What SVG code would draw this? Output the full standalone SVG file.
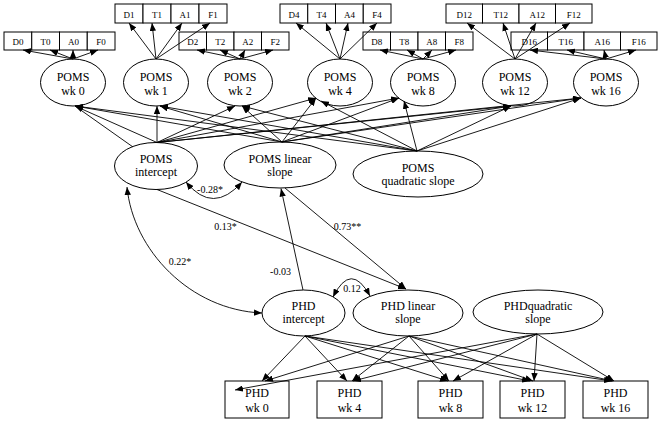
<svg xmlns="http://www.w3.org/2000/svg" width="662" height="424" viewBox="0 0 662 424">
<defs>
<marker id="ah" viewBox="0 0 10 8" refX="10" refY="4" markerWidth="8" markerHeight="6.4" markerUnits="userSpaceOnUse" orient="auto-start-reverse"><path d="M0,0 L10,4 L0,8 z" fill="#000"/></marker>
<style>
.n{fill:#fff;stroke:#000;stroke-width:1}
.t{font-family:"Liberation Serif","Times New Roman",serif;font-size:12px;fill:#000;text-anchor:middle}
.s{font-family:"Liberation Serif","Times New Roman",serif;font-size:9px;fill:#000;text-anchor:middle}
.l{font-family:"Liberation Serif","Times New Roman",serif;font-size:10px;fill:#000;text-anchor:middle}
.c line,.c path{stroke:#000;stroke-width:0.9;fill:none}
.a{marker-end:url(#ah)}
.d{marker-start:url(#ah);marker-end:url(#ah)}
</style>
</defs>
<rect width="662" height="424" fill="#fff"/>

<!-- indicator boxes -->
<g id="ind0">
<rect class="n" x="4" y="32" width="27.75" height="18"/><rect class="n" x="31.75" y="32" width="27.75" height="18"/><rect class="n" x="59.5" y="32" width="27.75" height="18"/><rect class="n" x="87.25" y="32" width="27.75" height="18"/>
<text class="s" x="17.9" y="45">D0</text><text class="s" x="45.6" y="45">T0</text><text class="s" x="73.4" y="45">A0</text><text class="s" x="101.1" y="45">F0</text>
</g>
<g id="ind1">
<rect class="n" x="115" y="4" width="28" height="19"/><rect class="n" x="143" y="4" width="28" height="19"/><rect class="n" x="171" y="4" width="28" height="19"/><rect class="n" x="199" y="4" width="28" height="19"/>
<text class="s" x="129" y="17.5">D1</text><text class="s" x="157" y="17.5">T1</text><text class="s" x="185" y="17.5">A1</text><text class="s" x="213" y="17.5">F1</text>
</g>
<g id="ind2">
<rect class="n" x="179" y="32" width="27.5" height="18"/><rect class="n" x="206.5" y="32" width="27.5" height="18"/><rect class="n" x="234" y="32" width="27.5" height="18"/><rect class="n" x="261.5" y="32" width="27.5" height="18"/>
<text class="s" x="192.75" y="45">D2</text><text class="s" x="220.25" y="45">T2</text><text class="s" x="247.75" y="45">A2</text><text class="s" x="275.25" y="45">F2</text>
</g>
<g id="ind4">
<rect class="n" x="280" y="4" width="27.75" height="19"/><rect class="n" x="307.75" y="4" width="27.75" height="19"/><rect class="n" x="335.5" y="4" width="27.75" height="19"/><rect class="n" x="363.25" y="4" width="27.75" height="19"/>
<text class="s" x="293.9" y="17.5">D4</text><text class="s" x="321.6" y="17.5">T4</text><text class="s" x="349.4" y="17.5">A4</text><text class="s" x="377.1" y="17.5">F4</text>
</g>
<g id="ind8">
<rect class="n" x="363" y="32" width="27.5" height="18"/><rect class="n" x="390.5" y="32" width="27.5" height="18"/><rect class="n" x="418" y="32" width="27.5" height="18"/><rect class="n" x="445.5" y="32" width="27.5" height="18"/>
<text class="s" x="376.75" y="45">D8</text><text class="s" x="404.25" y="45">T8</text><text class="s" x="431.75" y="45">A8</text><text class="s" x="459.25" y="45">F8</text>
</g>
<g id="ind12">
<rect class="n" x="446" y="4" width="36.5" height="19"/><rect class="n" x="482.5" y="4" width="36.5" height="19"/><rect class="n" x="519" y="4" width="36.5" height="19"/><rect class="n" x="555.5" y="4" width="36.5" height="19"/>
<text class="s" x="464.25" y="17.5">D12</text><text class="s" x="500.75" y="17.5">T12</text><text class="s" x="537.25" y="17.5">A12</text><text class="s" x="573.75" y="17.5">F12</text>
</g>
<g id="ind16">
<rect class="n" x="511" y="32" width="36.5" height="18"/><rect class="n" x="547.5" y="32" width="36.5" height="18"/><rect class="n" x="584" y="32" width="36.5" height="18"/><rect class="n" x="620.5" y="32" width="36.5" height="18"/>
<text class="s" x="529.25" y="45">D16</text><text class="s" x="565.75" y="45">T16</text><text class="s" x="602.25" y="45">A16</text><text class="s" x="638.75" y="45">F16</text>
</g>

<!-- POMS weekly latent -->
<g id="poms0"><ellipse class="n" cx="73" cy="82.5" rx="32.5" ry="23.5"/><text class="t" x="73" y="81">POMS</text><text class="t" x="73" y="95">wk 0</text></g>
<g id="poms1"><ellipse class="n" cx="156" cy="82.5" rx="32.5" ry="23.5"/><text class="t" x="156" y="81">POMS</text><text class="t" x="156" y="95">wk 1</text></g>
<g id="poms2"><ellipse class="n" cx="240" cy="82.5" rx="32.5" ry="23.5"/><text class="t" x="240" y="81">POMS</text><text class="t" x="240" y="95">wk 2</text></g>
<g id="poms4"><ellipse class="n" cx="340" cy="82.5" rx="32.5" ry="23.5"/><text class="t" x="340" y="81">POMS</text><text class="t" x="340" y="95">wk 4</text></g>
<g id="poms8"><ellipse class="n" cx="423" cy="82.5" rx="32.5" ry="23.5"/><text class="t" x="423" y="81">POMS</text><text class="t" x="423" y="95">wk 8</text></g>
<g id="poms12"><ellipse class="n" cx="515" cy="82.5" rx="32.5" ry="23.5"/><text class="t" x="515" y="81">POMS</text><text class="t" x="515" y="95">wk 12</text></g>
<g id="poms16"><ellipse class="n" cx="606" cy="82.5" rx="32.5" ry="23.5"/><text class="t" x="606" y="81">POMS</text><text class="t" x="606" y="95">wk 16</text></g>

<!-- POMS growth factors -->
<g id="pomsInt"><ellipse class="n" cx="156" cy="166" rx="41.5" ry="23.5"/><text class="t" x="156" y="163">POMS</text><text class="t" x="156" y="176">intercept</text></g>
<g id="pomsLin"><ellipse class="n" cx="280" cy="165" rx="56" ry="23"/><text class="t" x="280" y="163">POMS linear</text><text class="t" x="280" y="176">slope</text></g>
<g id="pomsQuad"><ellipse class="n" cx="418" cy="174" rx="65" ry="23"/><text class="t" x="418" y="172">POMS</text><text class="t" x="418" y="185">quadratic slope</text></g>

<!-- PHD growth factors -->
<g id="phdInt"><ellipse class="n" cx="303.5" cy="313" rx="41.5" ry="23"/><text class="t" x="303.5" y="310">PHD</text><text class="t" x="303.5" y="323">intercept</text></g>
<g id="phdLin"><ellipse class="n" cx="408" cy="313" rx="55" ry="23"/><text class="t" x="408" y="310">PHD linear</text><text class="t" x="408" y="323">slope</text></g>
<g id="phdQuad"><ellipse class="n" cx="538" cy="312" rx="65" ry="22"/><text class="t" x="538" y="310">PHDquadratic</text><text class="t" x="538" y="323">slope</text></g>

<!-- PHD observed -->
<g id="phd0"><rect class="n" x="225" y="381" width="64" height="37"/><text class="t" x="257" y="397">PHD</text><text class="t" x="257" y="412">wk 0</text></g>
<g id="phd4"><rect class="n" x="317" y="381" width="65" height="37"/><text class="t" x="349.5" y="397">PHD</text><text class="t" x="349.5" y="412">wk 4</text></g>
<g id="phd8"><rect class="n" x="418" y="381" width="65" height="37"/><text class="t" x="450.5" y="397">PHD</text><text class="t" x="450.5" y="412">wk 8</text></g>
<g id="phd12"><rect class="n" x="500" y="381" width="65" height="37"/><text class="t" x="532.5" y="397">PHD</text><text class="t" x="532.5" y="412">wk 12</text></g>
<g id="phd16"><rect class="n" x="583" y="381" width="65" height="37"/><text class="t" x="615.5" y="397">PHD</text><text class="t" x="615.5" y="412">wk 16</text></g>

<g id="connectors" class="c">
<!-- POMS weekly to indicators -->
<line class="a" x1="73" y1="59" x2="23" y2="50"/><line class="a" x1="73" y1="59" x2="50" y2="50"/><line class="a" x1="73" y1="59" x2="73" y2="50"/><line class="a" x1="73" y1="59" x2="98" y2="50"/>
<line class="a" x1="156" y1="59" x2="129" y2="23"/><line class="a" x1="156" y1="59" x2="152" y2="23"/><line class="a" x1="156" y1="59" x2="182" y2="23"/><line class="a" x1="156" y1="59" x2="210" y2="23"/>
<line class="a" x1="240" y1="59" x2="197" y2="50"/><line class="a" x1="240" y1="59" x2="220" y2="50"/><line class="a" x1="240" y1="59" x2="245" y2="50"/><line class="a" x1="240" y1="59" x2="273" y2="50"/>
<line class="a" x1="340" y1="59" x2="296" y2="23"/><line class="a" x1="340" y1="59" x2="326" y2="23"/><line class="a" x1="340" y1="59" x2="348" y2="23"/><line class="a" x1="340" y1="59" x2="377" y2="23"/>
<line class="a" x1="423" y1="59" x2="380" y2="50"/><line class="a" x1="423" y1="59" x2="407" y2="50"/><line class="a" x1="423" y1="59" x2="432" y2="50"/><line class="a" x1="423" y1="59" x2="456" y2="50"/>
<line class="a" x1="515" y1="59" x2="467" y2="23"/><line class="a" x1="515" y1="59" x2="503" y2="23"/><line class="a" x1="515" y1="59" x2="536" y2="23"/><line class="a" x1="515" y1="59" x2="570" y2="23"/>
<line class="a" x1="606" y1="59" x2="530" y2="50"/><line class="a" x1="606" y1="59" x2="567" y2="50"/><line class="a" x1="606" y1="59" x2="604" y2="50"/><line class="a" x1="606" y1="59" x2="636" y2="50"/>
<!-- POMS growth loadings -->
<line class="a" x1="157" y1="142.5" x2="75" y2="106"/><line class="a" x1="282" y1="142" x2="75" y2="106"/><line class="a" x1="417" y1="151" x2="75" y2="106"/>
<line class="a" x1="157" y1="142.5" x2="157" y2="106"/><line class="a" x1="282" y1="142" x2="160" y2="106"/><line class="a" x1="417" y1="151" x2="160" y2="106"/>
<line class="a" x1="157" y1="142.5" x2="235" y2="106"/><line class="a" x1="282" y1="142" x2="242" y2="106"/><line class="a" x1="417" y1="151" x2="242" y2="106"/>
<line class="a" x1="157" y1="142.5" x2="316" y2="98"/><line class="a" x1="282" y1="142" x2="316" y2="98"/><line class="a" x1="417" y1="151" x2="321" y2="101"/>
<line class="a" x1="157" y1="142.5" x2="399" y2="98"/><line class="a" x1="282" y1="142" x2="399" y2="98"/><line class="a" x1="417" y1="151" x2="404" y2="101"/>
<line class="a" x1="157" y1="142.5" x2="511" y2="106"/><line class="a" x1="282" y1="142" x2="511" y2="106"/><line class="a" x1="417" y1="151" x2="511" y2="106"/>
<line class="a" x1="157" y1="142.5" x2="581" y2="98"/><line class="a" x1="282" y1="142" x2="581" y2="98"/><line class="a" x1="417" y1="151" x2="581" y2="98"/>
<line x1="75" y1="106" x2="133" y2="147"/>
<!-- structural paths -->
<path class="d" d="M186,182 Q213,215 242,182"/>
<path class="d" d="M127,187 C133,250 190,310 262,313"/>
<path class="d" d="M333,297 Q351,261 370,296"/>
<line class="a" x1="157" y1="189.5" x2="406" y2="289"/>
<line class="a" x1="285" y1="188" x2="406" y2="289"/>
<line class="a" x1="303" y1="290" x2="281" y2="188.5"/>
<!-- PHD loadings -->
<line class="a" x1="305" y1="336" x2="262" y2="381"/><line class="a" x1="305" y1="336" x2="347" y2="381"/><line class="a" x1="305" y1="336" x2="448" y2="381"/><line class="a" x1="305" y1="336" x2="530" y2="381"/><line class="a" x1="305" y1="336" x2="612" y2="381"/>
<line class="a" x1="409" y1="336" x2="265" y2="381"/><line class="a" x1="409" y1="336" x2="352" y2="381"/><line class="a" x1="409" y1="336" x2="449" y2="381"/><line class="a" x1="409" y1="336" x2="533" y2="381"/><line class="a" x1="409" y1="336" x2="613" y2="381"/>
<line class="a" x1="537" y1="334" x2="235" y2="390"/><line class="a" x1="537" y1="334" x2="353" y2="381"/><line class="a" x1="537" y1="334" x2="453" y2="381"/><line class="a" x1="537" y1="334" x2="534" y2="381"/><line class="a" x1="537" y1="334" x2="614" y2="381"/>
</g>

<g id="labels">
<text class="l" x="210" y="193">-0.28*</text>
<text class="l" x="225.5" y="230">0.13*</text>
<text class="l" x="347.5" y="230">0.73**</text>
<text class="l" x="180" y="265">0.22*</text>
<text class="l" x="280.5" y="275">-0.03</text>
<text class="l" x="352" y="292">0.12</text>
</g>
</svg>
